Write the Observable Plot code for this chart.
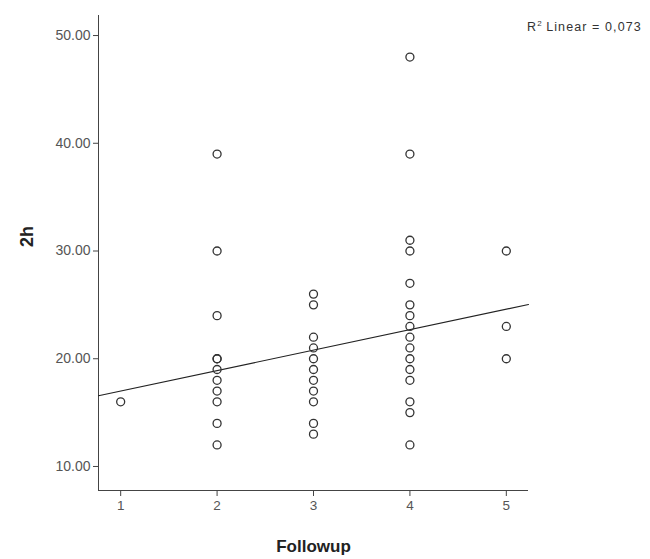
<!DOCTYPE html>
<html><head><meta charset="utf-8">
<script src="https://cdn.jsdelivr.net/npm/d3@7"></script>
<script src="https://cdn.jsdelivr.net/npm/@observablehq/plot@0.6"></script>
<style>
body{margin:0;background:#fff;}
#chart{position:relative;width:650px;height:559px;overflow:hidden}
#r2{position:absolute;left:527px;top:19px;font:12.5px "Liberation Sans",Arial,sans-serif;color:#333;white-space:nowrap;letter-spacing:1.1px}
</style></head>
<body><div id="chart"><div id="r2">R<sup style="font-size:8px;letter-spacing:0">2</sup> Linear = 0,073</div></div>
<script>
const followup1 = [16];
const followup2 = [39, 30, 24, 20, 20, 19, 18, 17, 16, 14, 12];
const followup3 = [26, 25, 22, 21, 20, 19, 18, 17, 16, 14, 13];
const followup4 = [48, 39, 31, 30, 27, 25, 24, 23, 22, 21, 20, 19, 18, 16, 15, 12];
const followup5 = [30, 23, 20];
// fit line (R² Linear = 0,073)
const fitIntercept = 15.1;
const fitSlope = 1.9;
const xTicks = [1, 2, 3, 4, 5];
const yTicks = [10, 20, 30, 40, 50];
const xDomain = [0.77, 5.23];
const yDomain = [7.77, 51.86];

const groups = [followup1, followup2, followup3, followup4, followup5];
const data = groups.flatMap((vals, i) => vals.map(v => ({x: i + 1, y: v})));
const fit = xDomain.map(x => ({x, y: fitIntercept + fitSlope * x}));

const chart = Plot.plot({
  width: 650, height: 559,
  marginLeft: 98, marginRight: 122, marginTop: 15, marginBottom: 69,
  style: {fontFamily: "'Liberation Sans', Arial, sans-serif", fontSize: "12px", color: "#333", background: "white"},
  x: {domain: xDomain, label: null},
  y: {domain: yDomain, label: null},
  marks: [
    Plot.ruleX([xDomain[0]], {stroke: "#444", strokeWidth: 1}),
    Plot.ruleY([yDomain[0]], {stroke: "#444", strokeWidth: 1}),
    Plot.axisX({ticks: xTicks, tickFormat: d => String(d), tickSize: 6, tickPadding: 4, stroke: "#444", fill: "#555", fontSize: 13.5, label: null}),
    Plot.axisY({ticks: yTicks, tickFormat: d => d.toFixed(2), tickSize: 5, tickPadding: 3, stroke: "#444", fill: "#555", fontSize: 14, letterSpacing: "1.3px", label: null}),
    Plot.line(fit, {x: "x", y: "y", stroke: "#222", strokeWidth: 1.1}),
    Plot.dot(data, {x: "x", y: "y", r: 4, stroke: "#333", strokeWidth: 1.3, fill: "none"}),
    Plot.text(["Followup"], {frameAnchor: "bottom", dy: 61, fontSize: 17, fontWeight: "bold", letterSpacing: "2px", fill: "#222"}),
    Plot.text(["2h"], {frameAnchor: "left", dx: -71, dy: -6, rotate: -90, fontSize: 18, fontWeight: "bold", letterSpacing: "2px", fill: "#222"})
  ]
});
document.getElementById("chart").prepend(chart);
</script>
</body></html>
